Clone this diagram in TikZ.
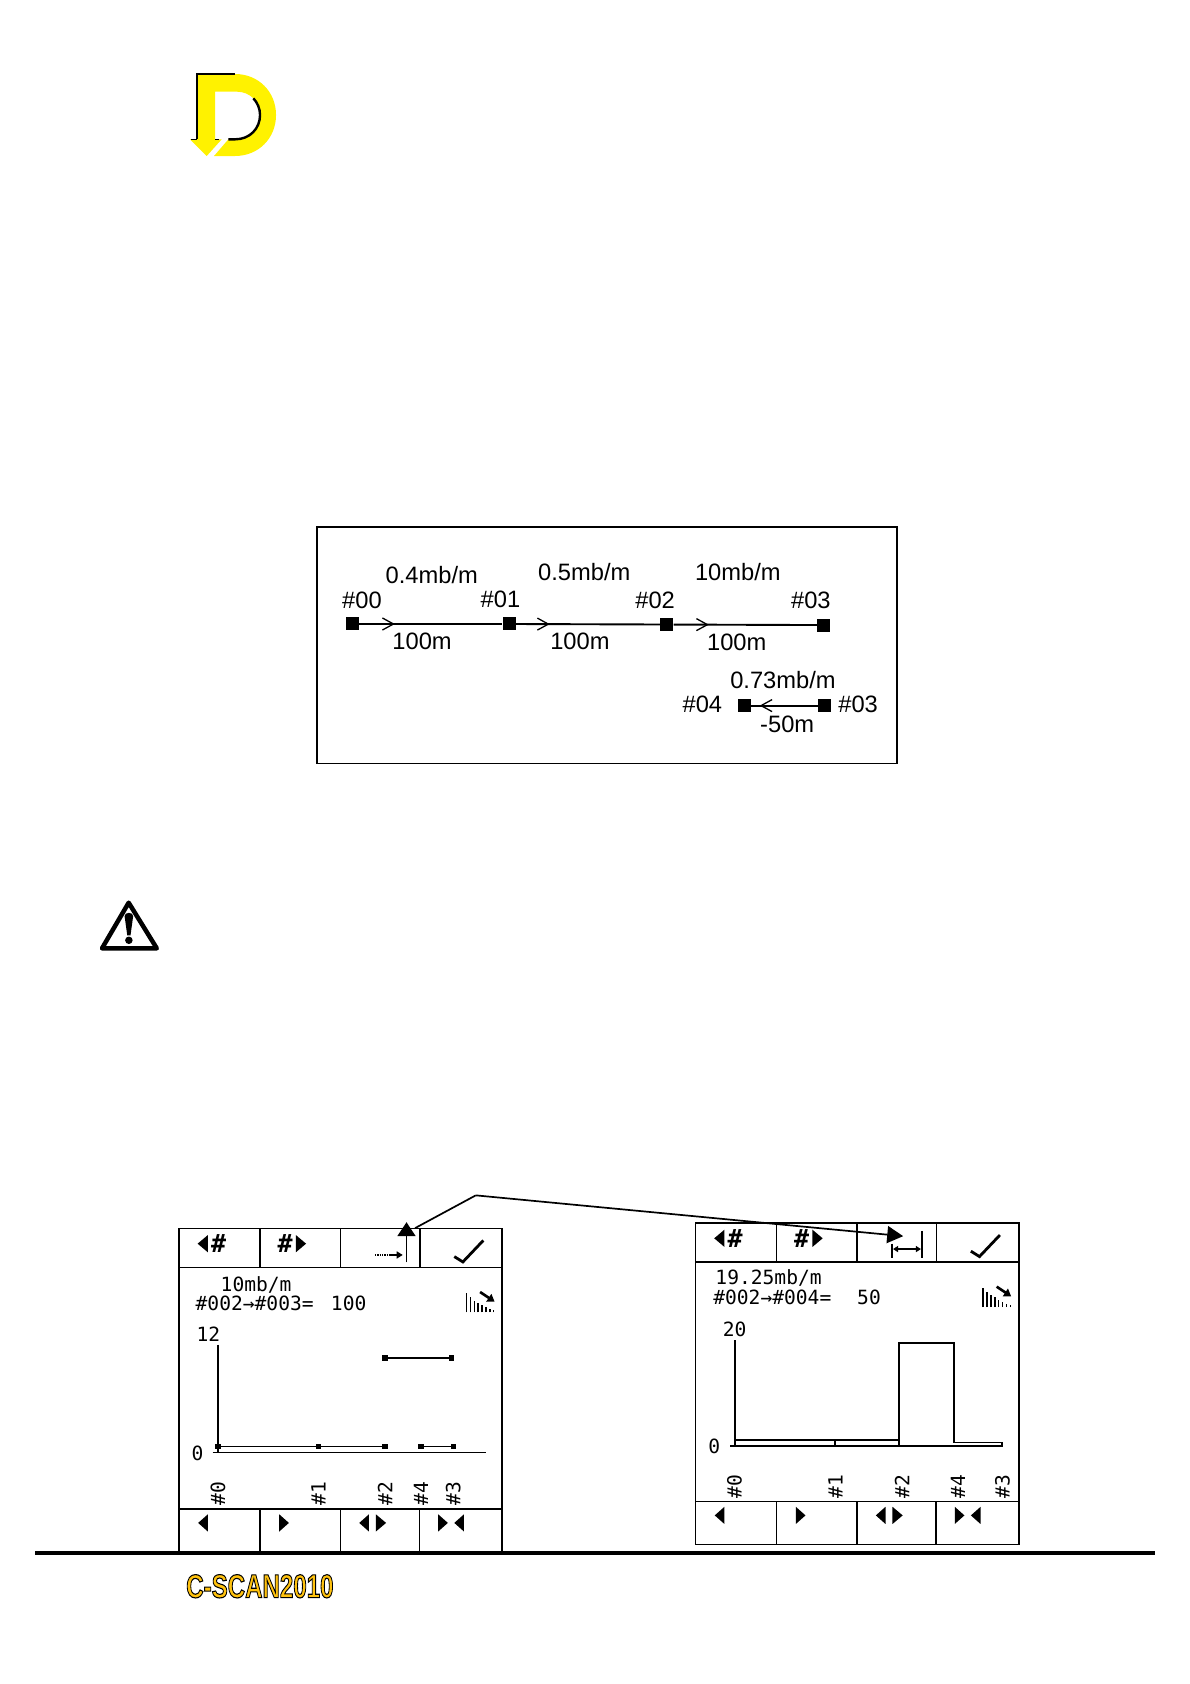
\documentclass[tikz,border=0pt]{standalone}
\usepackage{fontspec}
\setmainfont{Liberation Sans}
\newfontfamily\lcdfont{DejaVu Sans Mono}
\usetikzlibrary{arrows.meta,decorations.markings}
\definecolor{logoyellow}{HTML}{FFF200}
\definecolor{footgold}{HTML}{FFC20E}
\tikzset{
  station/.style={fill=black,inner sep=0,minimum size=13pt},
  lab/.style={inner sep=0,font=\fontsize{23.7}{25}\selectfont},
  lcd/.style={inner sep=0,font=\lcdfont\fontsize{19.6}{21}\selectfont},
  lcdbold/.style={inner sep=0,font=\lcdfont\bfseries\fontsize{#1}{#1}\selectfont},
  lcdline/.style={line width=1.6pt},
  flow/.style={line width=1.9pt,postaction={decorate},decoration={markings,
    mark=at position #1 with {\arrow[line width=1.3pt]{Straight Barb[length=11pt,width=12pt]}}}},
  callout/.style={line width=1.7pt},
}
% frame of a screen: x, y, height, top of the lower bar, name
\newcommand{\lcdframe}[5]{
  \begin{scope}[shift={(#1,#2)}]
    \draw[line width=1.7pt] (0,0) rectangle (301,#3);
    \draw[lcdline] (0,36) -- (301,36) (0,#4) -- (301,#4);
    \foreach \dx in {75.5,150.5,224.5} {\draw[lcdline] (\dx,0) -- (\dx,36);}
    \foreach \dx in {75.5,150.5,224} {\draw[lcdline] (\dx,#4) -- (\dx,#3);}
    %triangles of the upper bar
    \foreach \base/\tip in {27/17.5,109/118.5} {
      \fill (\base,6) -- (\tip,14) -- (\base,22) -- cycle;}
    %triangles of the lower bar
    \foreach \base/\tip in {27/18,93.5/102.5,177/168,183.5/193,241.5/250.5,265.5/256.5} {
      \fill (\base,#4+5) -- (\tip,#4+13) -- (\base,#4+21) -- cycle;}
    \node[lcdbold=25] (#5prev) at (37,14) {\#};
    \node[lcdbold=25] (#5next) at (99,14) {\#};
    \draw[line width=2.8pt] (256.5,26) -- (264.5,31) -- (283.5,11);
    %signal icon
    \foreach \bx/\bh in {268/18,271.6/14,275.2/11,278.8/9,282.4/7,286/5,289.6/3,293.2/2} {
      \draw[line width=1.5pt] (\bx,78) -- (\bx,78-\bh);}
    \draw[line width=2.6pt,-{Triangle[length=7pt,width=9pt]}] (280.5,59) -- (294,68);
  \end{scope}
}
\begin{document}
\begin{tikzpicture}[x=1.074pt,y=-1.074pt]
\useasboundingbox (0,0) rectangle (1108,1568);
%logo
\begin{scope}[shift={(149,46.55)},scale=0.3104]
  \fill[logoyellow] (110,72) -- (225,72) .. controls (295,72) and (348,125) .. (348,195)
    .. controls (348,265) and (295,318) .. (225,318) -- (162,318) -- (205,268) -- (225,268)
    .. controls (270,268) and (300,235) .. (300,195) .. controls (300,155) and (270,125) .. (230,125)
    -- (165,125) -- (165,268) -- (185,268) -- (140,318) -- (90,268) -- (110,268) -- cycle;
  \draw[line width=2pt] (110,268) -- (110,72) -- (225,72);
  \draw[line width=1.2pt] (94,268) -- (110,268) (165,268) -- (178,268);
  \draw[line width=2.4pt] (205,268) -- (225,268) .. controls (270,268) and (300,235) .. (300,195)
    .. controls (300,175) and (292,158) .. (280,145);
\end{scope}
%stations
\draw[line width=1.7pt] (295,491) rectangle (835,711);
\node[station] (n00) at (328,581) {};
\node[station] (n01) at (474,581) {};
\node[station] (n02) at (621,581.5) {};
\node[station] (n03) at (767,582) {};
\node[station] (m04) at (693,657) {};
\node[station] (m03) at (768,657) {};
\draw[flow=0.25] (n00) -- (n01);
\draw[flow=0.235] (n01) -- (n02);
\draw[flow=0.245] (n02) -- (n03);
\draw[flow=0.87] (m03) -- (m04);
\node[lab] (r01) at (402,535) {0.4mb/m};
\node[lab] (r02) at (544,533) {0.5mb/m};
\node[lab] (r03) at (687,533) {10mb/m};
\node[lab] (r04) at (729,633) {0.73mb/m};
\node[lab] (t00) at (337,559) {\#00};
\node[lab] (t01) at (466,558) {\#01};
\node[lab] (t02) at (610,559) {\#02};
\node[lab] (t03) at (755,559) {\#03};
\node[lab] (t04) at (654,656) {\#04};
\node[lab] (t05) at (799,656) {\#03};
\node[lab] (d01) at (393,597) {100m};
\node[lab] (d02) at (540,597) {100m};
\node[lab] (d03) at (686,598) {100m};
\node[lab] (d04) at (733,674) {-50m};
%warning
\draw[line width=4.5pt,line join=round] (119.8,840.5) -- (95,883) -- (146,883) -- cycle;
\fill (116,853) .. controls (116,849) and (124,849) .. (124,853) -- (121.5,871) -- (118.5,871) -- cycle;
\fill (120,875.5) circle (3.5);
%left screen
\lcdframe{166.5}{1144}{301}{261}{a}
\node[lcd] (a1) at (238.5,1196) {10mb/m};
\node[lcd,anchor=west] (a2) at (182,1214) {\#002→\#003=};
\node[lcd,anchor=west] (a3) at (308,1214) {100};
\node[lcd] (a4) at (194,1242) {12};
\node[lcd] (a5) at (184,1353) {0};
\draw[lcdline] (203,1252) -- (203,1352.5);
\draw[lcdline] (198,1352.5) -- (452.5,1352.5);
\draw[lcdline] (203,1347) -- (358.5,1347) (392,1347) -- (422,1347);
\draw[lcdline] (358.5,1264.5) -- (420.5,1264.5);
\foreach \px/\py in {203/1347,296.5/1347,358.5/1347,392/1347,422/1347,358.5/1264.5,420.5/1264.5} {
  \fill (\px-2.5,\py-2.5) rectangle (\px+2.5,\py+2.5);}
\foreach \px/\lbl in {203/0,296.5/1,358.5/2,392/4,422/3} {
  \node[lcd,rotate=90] (a\lbl x) at (\px,1390.5) {\#\lbl};}
%left tool icon
\draw[line width=1.4pt,densely dotted] (349,1168.5) -- (362,1168.5);
\draw[line width=1.4pt,-{Triangle[length=6pt,width=7pt]}] (362,1168.5) -- (375,1168.5);
\coordinate (iconbase) at (378.5,1175.5);
\coordinate (tipup) at (378.5,1138);
\draw[line width=1.8pt,-{Triangle[length=14pt,width=18pt]}] (iconbase) -- (tipup);
%right screen
\lcdframe{647.5}{1139}{299}{259}{b}
\node[lcd,anchor=west] (b1) at (666,1190) {19.25mb/m};
\node[lcd,anchor=west] (b2) at (664,1208) {\#002→\#004=};
\node[lcd,anchor=west] (b3) at (798,1208) {50};
\node[lcd] (b4) at (684,1238) {20};
\node[lcd] (b5) at (665,1347) {0};
\draw[lcdline] (684.5,1248) -- (684.5,1346.5);
\draw[lcdline] (680,1346.5) -- (933,1346.5) -- (933,1343) -- (888,1343) -- (888,1250.5) -- (837,1250.5) -- (837,1346.5);
\draw[lcdline] (684.5,1341) -- (837,1341) (777.5,1341) -- (777.5,1346.5);
\foreach \px/\lbl in {684/0,778/1,840/2,892/4,933.5/3} {
  \node[lcd,rotate=90] (b\lbl x) at (\px,1384) {\#\lbl};}
%right tool icon
\draw[line width=1.6pt] (858.5,1146) -- (858.5,1171) (830.5,1158) -- (830.5,1171);
\draw[line width=1.4pt,{Triangle[length=5pt,width=6pt]}-{Triangle[length=5pt,width=6pt]}] (831.5,1163) -- (857.5,1163);
%callouts
\coordinate (bend) at (443,1113);
\coordinate (tipa) at (386.5,1143.5);
\coordinate (tipb) at (841,1151);
\draw[callout] (tipa) -- (bend);
\draw[callout,-{Triangle[length=16pt,width=17pt]}] (bend) -- (tipb);
%footer
\draw[line width=3.5pt] (33,1446) -- (1075,1446);
\node[inner sep=0,xscale=0.73,text=footgold,font=\bfseries\fontsize{33}{33}\selectfont] (cscan) at (242,1477)
  {\special{pdf:code q 0 0 0 RG 1.1 w 2 Tr}C-SCAN2010\special{pdf:code Q}};
\end{tikzpicture}
\end{document}
